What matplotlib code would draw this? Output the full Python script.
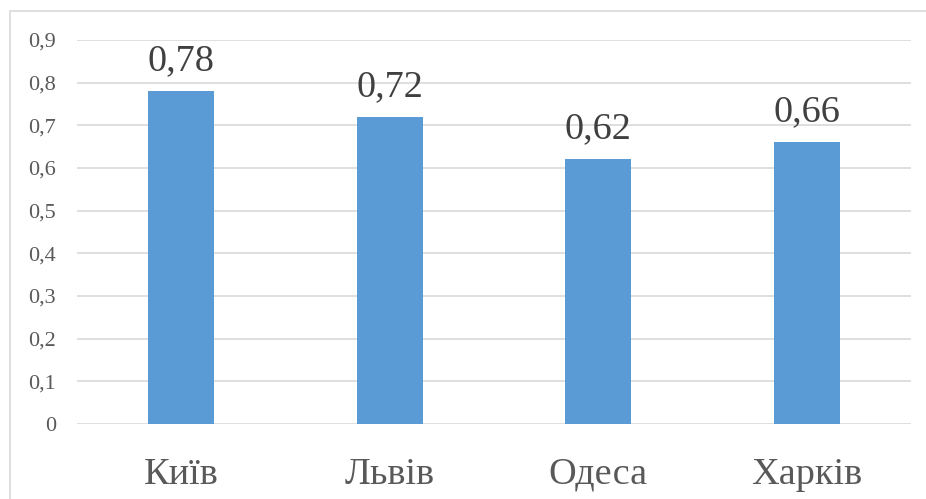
import numpy as np
import matplotlib.pyplot as plt
from matplotlib.patches import Rectangle

cities = ['Київ', 'Львів', 'Одеса', 'Харків']
values = [0.78, 0.72, 0.62, 0.66]
y_ticks = [0, 0.1, 0.2, 0.3, 0.4, 0.5, 0.6, 0.7, 0.8, 0.9]

plt.rcParams['font.family'] = ['Liberation Serif', 'DejaVu Serif']

fig = plt.figure(figsize=(9.26, 4.99), dpi=100)
ax = fig.add_axes([77 / 926, 1 - 424 / 499, (911 - 77) / 926, (424 - 40) / 499])

# outer frame of the chart (right and bottom edges fall outside the picture)
fig.patches.append(Rectangle((9.5 / 926, -10 / 499), 930 / 926, 498.5 / 499, transform=fig.transFigure,
                             fill=False, edgecolor='#d9d9d9', linewidth=1.2))

ind = np.arange(len(cities))
rects = ax.bar(ind, values, 0.317, color='#5b9bd5', zorder=3)

for rect, v in zip(rects, values):
    ax.text(rect.get_x() + rect.get_width() / 2., v + 0.03, ('%.2f' % v).replace('.', ','),
            ha='center', va='bottom', fontsize=27.5, color='#404040')

ax.set_xlim(-0.5, len(cities) - 0.5)
ax.set_ylim(0, 0.9)
ax.set_yticks(y_ticks)
ax.set_yticklabels([('%g' % t).replace('.', ',') for t in y_ticks], fontsize=16, color='#595959')
ax.set_xticks(ind)
ax.set_xticklabels(cities, fontsize=27.5, color='#595959')
ax.tick_params(axis='both', length=0)
ax.tick_params(axis='y', pad=15)
ax.tick_params(axis='x', pad=24)
ax.grid(axis='y', color='#d9d9d9', linewidth=1.2, zorder=0)
for s in ax.spines.values():
    s.set_visible(False)

fig.savefig('out.png', dpi=100)
